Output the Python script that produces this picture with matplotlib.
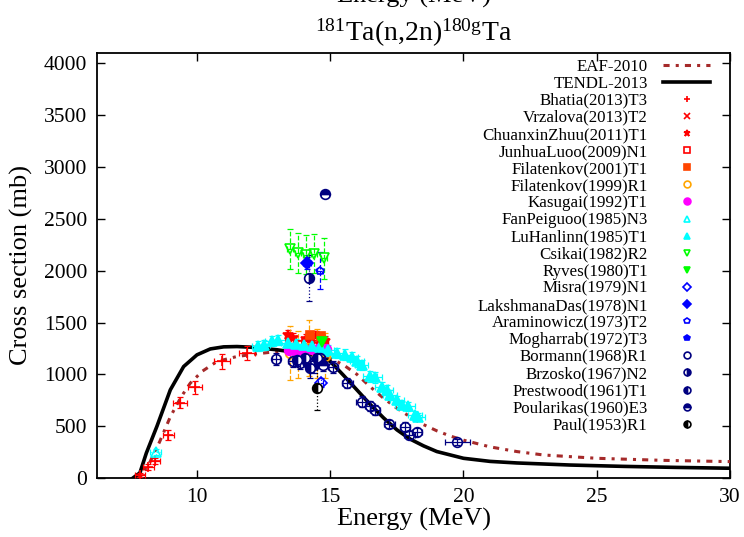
import matplotlib
matplotlib.use('Agg')
import matplotlib.pyplot as plt

plt.rcParams['font.family'] = ['Liberation Serif', 'DejaVu Serif']
plt.rcParams['mathtext.fontset'] = 'custom'
plt.rcParams['mathtext.rm'] = 'Liberation Serif'
plt.rcParams['mathtext.it'] = 'Liberation Serif:italic'

# evaluated libraries
eaf_e = [7.7, 7.9, 8.25, 8.6, 9.0, 9.4, 9.75, 10.2, 10.75, 11.5, 12.25, 13.0, 13.5, 14.0, 14.5,
         15.0, 15.5, 16.0, 16.5, 17.0, 17.5, 18.0, 18.5, 19.0, 19.5, 20.0, 21.0, 22.0, 23.0,
         25.0, 27.5, 30.0]
eaf_s = [0, 20, 160, 350, 590, 780, 915, 1030, 1124, 1172, 1198, 1220, 1225, 1220, 1200,
         1157, 1090, 1000, 880, 770, 673, 590, 515, 455, 405, 365, 300, 255, 222,
         190, 170, 158]

tendl_e = [7.6, 7.86, 8.1, 8.5, 9.0, 9.5, 10.0, 10.5, 11.0, 11.5, 12.0, 13.0, 14.0, 14.5,
           15.0, 15.5, 16.0, 16.5, 17.0, 17.5, 18.0, 18.5, 19.0, 20.0, 21.0, 22.0, 24.0,
           26.0, 28.0, 30.0]
tendl_s = [0, 50, 240, 500, 850, 1075, 1188, 1245, 1265, 1268, 1262, 1237, 1200, 1180,
           1125, 990, 850, 710, 580, 465, 375, 310, 255, 190, 160, 145, 125,
           112, 102, 94]

# measurements: energy, cross section, energy error, cross section error
bhatia_e = [7.86, 8.18, 8.43, 8.93, 9.36, 9.93, 10.93, 11.89]
bhatia_s = [30, 103, 164, 415, 728, 875, 1124, 1205]
bhatia_de = [0.2, 0.2, 0.2, 0.2, 0.25, 0.25, 0.3, 0.3]
bhatia_ds = [20, 30, 30, 45, 50, 60, 70, 70]

vrzalova_e = [14.35, 14.75]
vrzalova_s = [1330, 1300]
vrzalova_de = [0.15, 0.15]
vrzalova_ds = [60, 60]

zhuu_e = [13.4, 13.6, 14.1, 14.45, 14.8]
zhuu_s = [1380, 1350, 1340, 1365, 1320]
zhuu_de = [0.1, 0.1, 0.1, 0.1, 0.1]
zhuu_ds = [50, 50, 50, 50, 50]

luoo_e = [13.5, 13.8, 14.1, 14.4, 14.7]
luoo_s = [1290, 1280, 1300, 1310, 1270]
luoo_de = [0.1, 0.1, 0.1, 0.1, 0.1]
luoo_ds = [50, 50, 50, 50, 50]

filat01_e = [14.25, 14.65]
filat01_s = [1380, 1365]
filat01_de = [0.1, 0.1]
filat01_ds = [40, 40]

filat99_e = [13.5, 13.8, 14.2, 14.5, 14.8]
filat99_s = [1210, 1190, 1250, 1200, 1180]
filat99_de = [0.15, 0.15, 0.15, 0.15, 0.15]
filat99_ds = [260, 230, 270, 240, 220]

kasugai_e = [13.45, 13.7, 14.0, 14.3, 14.6, 14.85]
kasugai_s = [1235, 1225, 1230, 1240, 1250, 1245]
kasugai_de = [0.1, 0.1, 0.1, 0.1, 0.1, 0.1]
kasugai_ds = [30, 30, 30, 30, 30, 30]

fan_e = [8.45, 14.6]
fan_s = [252, 1262]
fan_de = [0.2, 0.1]
fan_ds = [30, 50]

lu_e = [12.3, 12.5, 12.8, 13.05, 13.4, 13.7, 14.0, 14.3, 14.6, 14.9, 15.24, 15.56, 15.8,
        16.0, 16.18, 16.49, 16.68, 16.93, 17.12, 17.24, 17.5, 17.68, 17.93, 18.18, 18.3]
lu_s = [1275, 1285, 1320, 1330, 1300, 1290, 1280, 1270, 1265, 1230, 1205, 1190, 1170,
        1125, 1090, 980, 970, 880, 850, 800, 755, 705, 690, 610, 590]
lu_de = [0.25, 0.25, 0.25, 0.25, 0.25, 0.25, 0.25, 0.25, 0.25, 0.25, 0.25, 0.25, 0.25,
         0.25, 0.25, 0.25, 0.25, 0.25, 0.25, 0.25, 0.25, 0.25, 0.25, 0.25, 0.25]
lu_ds = [50, 50, 50, 50, 50, 50, 50, 50, 50, 50, 50, 50, 50,
         50, 50, 50, 50, 45, 45, 45, 40, 40, 40, 35, 35]

csikai_e = [13.49, 13.78, 14.08, 14.39, 14.77]
csikai_s = [2210, 2170, 2155, 2165, 2120]
csikai_de = [0.12, 0.12, 0.12, 0.12, 0.12]
csikai_ds = [190, 190, 190, 190, 200]

ryves_e = [14.7]
ryves_s = [1315]
ryves_de = [0.1]
ryves_ds = [40]

misra_e = [14.64]
misra_s = [920]
misra_de = [0.1]
misra_ds = [40]

das_e = [14.12]
das_s = [2074]
das_de = [0.15]
das_ds = [60]

aramin_e = [14.62]
aramin_s = [2000]
aramin_de = [0.1]
aramin_ds = [180]

mogh_e = [14.5]
mogh_s = [1130]
mogh_de = [0.15]
mogh_ds = [60]

bormann_e = [12.97, 13.6, 13.87, 14.18, 14.62, 15.1, 15.64, 16.18, 16.49, 16.68, 17.22,
             17.8, 17.97, 18.25, 19.77]
bormann_s = [1150, 1133, 1114, 1108, 1157, 1072, 918, 737, 696, 657, 522,
             496, 415, 447, 345]
bormann_de = [0.15, 0.2, 0.2, 0.2, 0.2, 0.2, 0.2, 0.2, 0.2, 0.2, 0.2,
              0.2, 0.2, 0.2, 0.47]
bormann_ds = [60, 60, 60, 60, 60, 60, 50, 50, 50, 50, 40,
              40, 40, 40, 30]

brzosko_e = [14.2, 14.4]
brzosko_s = [1932, 1090]
brzosko_de = [0.1, 0.1]
brzosko_ds = [220, 80]

prestwood_e = [13.74, 14.06, 14.24, 14.5]
prestwood_s = [1140, 1157, 1060, 1157]
prestwood_de = [0.15, 0.15, 0.15, 0.15]
prestwood_ds = [60, 60, 100, 60]

poul_e = [14.82, 14.74]
poul_s = [2741, 1092]
poul_de = [0.05, 0.1]
poul_ds = [30, 60]

paul_e = [14.5]
paul_s = [867]
paul_de = [0.05]
paul_ds = [210]

navy = '#000080'
blue = '#0000ff'
series = [
    ('Bhatia(2013)T3', bhatia_e, bhatia_s, bhatia_de, bhatia_ds, '+', 'red', 'full', '-'),
    ('Vrzalova(2013)T2', vrzalova_e, vrzalova_s, vrzalova_de, vrzalova_ds, 'x', 'red', 'full', '-'),
    ('ChuanxinZhuu(2011)T1', zhuu_e, zhuu_s, zhuu_de, zhuu_ds, '*', 'red', 'full', ':'),
    ('JunhuaLuoo(2009)N1', luoo_e, luoo_s, luoo_de, luoo_ds, 's', 'red', 'none', ':'),
    ('Filatenkov(2001)T1', filat01_e, filat01_s, filat01_de, filat01_ds, 's', '#ff4500', 'full', '-'),
    ('Filatenkov(1999)R1', filat99_e, filat99_s, filat99_de, filat99_ds, 'o', '#ffa500', 'none', '--'),
    ('Kasugai(1992)T1', kasugai_e, kasugai_s, kasugai_de, kasugai_ds, 'o', '#ff00ff', 'full', '-'),
    ('FanPeiguoo(1985)N3', fan_e, fan_s, fan_de, fan_ds, '^', '#00ffff', 'none', ':'),
    ('LuHanlinn(1985)T1', lu_e, lu_s, lu_de, lu_ds, '^', '#00ffff', 'full', '-'),
    ('Csikai(1982)R2', csikai_e, csikai_s, csikai_de, csikai_ds, 'v', '#00ff00', 'none', '--'),
    ('Ryves(1980)T1', ryves_e, ryves_s, ryves_de, ryves_ds, 'v', '#00ff00', 'full', '-'),
    ('Misra(1979)N1', misra_e, misra_s, misra_de, misra_ds, 'D', blue, 'none', ':'),
    ('LakshmanaDas(1978)N1', das_e, das_s, das_de, das_ds, 'D', blue, 'full', '--'),
    ('Araminowicz(1973)T2', aramin_e, aramin_s, aramin_de, aramin_ds, 'p', blue, 'none', '--'),
    ('Mogharrab(1972)T3', mogh_e, mogh_s, mogh_de, mogh_ds, 'p', blue, 'full', '-'),
    ('Bormann(1968)R1', bormann_e, bormann_s, bormann_de, bormann_ds, 'o', navy, 'none', '-'),
    ('Brzosko(1967)N2', brzosko_e, brzosko_s, brzosko_de, brzosko_ds, 'o', navy, 'right', ':'),
    ('Prestwood(1961)T1', prestwood_e, prestwood_s, prestwood_de, prestwood_ds, 'o', navy, 'left', '-'),
    ('Poularikas(1960)E3', poul_e, poul_s, poul_de, poul_ds, 'o', navy, 'top', '-'),
    ('Paul(1953)R1', paul_e, paul_s, paul_de, paul_ds, 'o', 'black', 'left', ':'),
]

fig = plt.figure(figsize=(7.44, 5.37), dpi=100)
ax = fig.add_axes([0.1304, 0.1099, 0.8508, 0.7914])

ax.plot(eaf_e, eaf_s, color='#a52a2a', lw=2.2, ls=(0, (2, 2, 1, 2)), label='EAF-2010', zorder=3)
ax.plot(tendl_e, tendl_s, color='black', lw=2.6, label='TENDL-2013', zorder=3)

for name, e, s, de, ds, mk, col, fill, ls in series:
    eb = ax.errorbar(e, s, xerr=de, yerr=ds, fmt='none', ecolor=col, elinewidth=0.9,
                     capsize=2, capthick=0.9, zorder=4)
    for c in eb[2]:
        c.set_linestyle(ls)
    size = 6 if mk in ('D', 'p', 's') else 7
    ax.plot(e, s, ls='none', marker=mk, color=col, ms=size, mew=1.2, fillstyle=fill,
            markerfacecoloralt='white', label=name, zorder=5)

ax.set_xlim(6.25, 30)
ax.set_ylim(0, 4100)
ax.set_xticks([10, 15, 20, 25, 30])
ax.set_yticks(range(0, 4001, 500))
ax.tick_params(direction='in', length=6, width=1, top=True, right=True, labelsize=15.5, pad=7)
for sp in ax.spines.values():
    sp.set_linewidth(1.3)

ax.set_xlabel('Energy (MeV)', fontsize=19, labelpad=1)
ax.set_ylabel('Cross section (mb)', fontsize=19, labelpad=8)
ax.set_title(r'$^{181}$Ta(n,2n)$^{180\mathrm{g}}$Ta', fontsize=20, pad=9)
fig.text(0.556, 0.995, 'Energy (MeV)', fontsize=19, ha='center', va='baseline')

leg = ax.legend(loc='upper right', bbox_to_anchor=(0.969, 0.987), frameon=False,
                markerfirst=False, fontsize=12.2, labelspacing=0.065, handlelength=2.8,
                handletextpad=0.9, borderaxespad=0, borderpad=0, markerscale=0.7)

fig.savefig('out.png', dpi=100)
